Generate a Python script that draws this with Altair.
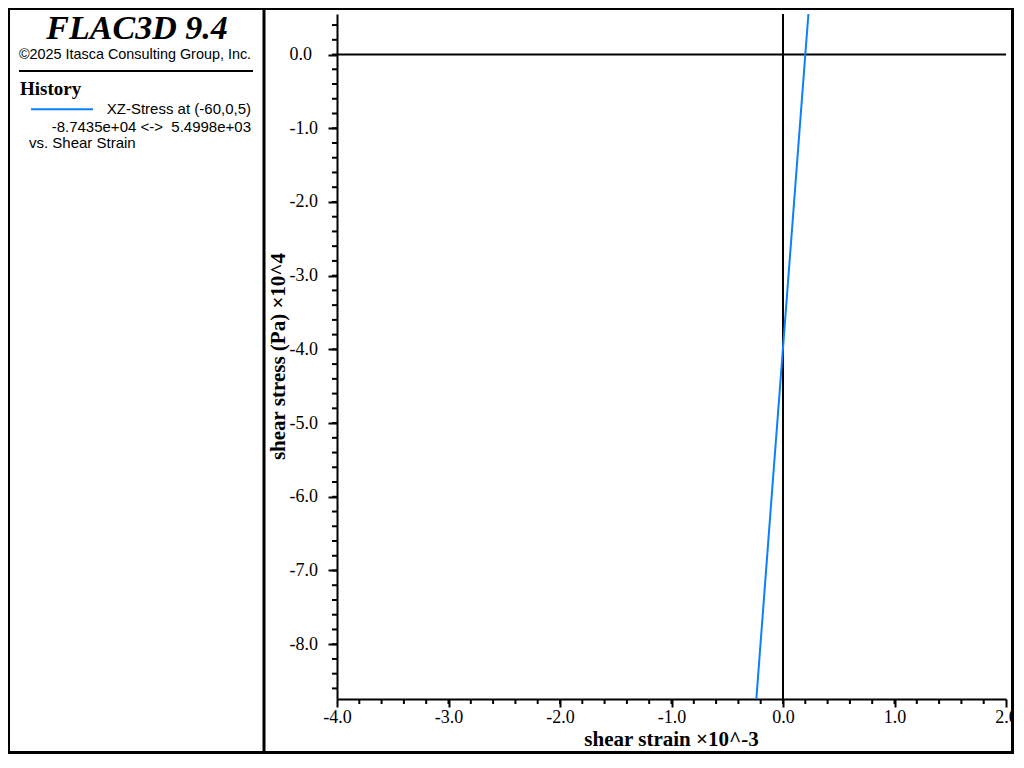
import altair as alt
import pandas as pd

# ---- data ----
shear_strain = [-0.239, -0.105, 0.0, 0.2, 0.228]          # x 10^-3
shear_stress = [-8.7435, -6.06, -3.98, 0.0, 0.54998]       # Pa x 10^4
x_major = [-4.0, -3.0, -2.0, -1.0, 0.0, 1.0, 2.0]
y_major = [-8.0, -7.0, -6.0, -5.0, -4.0, -3.0, -2.0, -1.0, 0.0]
x_minor = [round(-3.8 + 0.2 * i, 1) for i in range(29)]
y_minor = [round(-8.6 + 0.2 * i, 1) for i in range(46)]
x_domain = [-4.0, 2.0]
y_domain = [-8.7435, 0.54998]

title_text = "FLAC3D 9.4"
copyright_text = "\u00a92025 Itasca Consulting Group, Inc."
legend_head = "History"
legend_series = "XZ-Stress at (-60,0,5)"
legend_range = "-8.7435e+04 <->\u00a0 5.4998e+03"
legend_vs = "vs. Shear Strain"
x_title = "shear strain \u00d710^-3"
y_title = "shear stress (Pa) \u00d710^4"

BLUE = "#0a80ff"
SERIF = "Liberation Serif"
SANS = "Liberation Sans"

W, H = 669, 685
PAD = {"left": 329, "top": 6, "right": 8, "bottom": 55}

line_df = pd.DataFrame({"strain": shear_strain, "stress": shear_stress})
one = pd.DataFrame({"a": [0]})
zero_df = pd.DataFrame({"v": [0.0]})
xminor_df = pd.DataFrame({"v": x_minor})
yminor_df = pd.DataFrame({"v": y_minor})

xs = alt.Scale(domain=x_domain, nice=False, zero=False)
ys = alt.Scale(domain=y_domain, nice=False, zero=False)
label_expr = "(datum.value < 0 ? '-' : '') + format(abs(datum.value), '.1f')"

x_axis = alt.Axis(values=x_major, labelExpr=label_expr, title=None, grid=False,
                  tickSize=8, tickWidth=2, tickColor="black", domainWidth=2,
                  domainColor="black", labelPadding=1, labelFont=SERIF,
                  labelFontSize=18, labelColor="black", labelFlush=False,
                  labelOverlap=False)
y_axis = alt.Axis(values=y_major, labelExpr=label_expr, title=None, grid=False,
                  tickSize=9, tickWidth=2, tickColor="black", domainWidth=2,
                  domainColor="black", labelPadding=39, labelAlign="left",
                  labelBaseline="middle", labelFont=SERIF, labelFontSize=18,
                  labelColor="black", labelFlush=False, labelOverlap=False)


def hrule(x, x2, y, w, color="black"):
    return alt.Chart(one).mark_rule(strokeWidth=w, color=color).encode(
        x=alt.value(x), x2=alt.value(x2), y=alt.value(y))


def vrule(x, y, y2, w, color="black"):
    return alt.Chart(one).mark_rule(strokeWidth=w, color=color).encode(
        x=alt.value(x), y=alt.value(y), y2=alt.value(y2))


def txt(s, x, y, font, size, weight="normal", style="normal", align="left", angle=0):
    return alt.Chart(one).mark_text(
        text=s, font=font, fontSize=size, fontWeight=weight, fontStyle=style,
        align=align, baseline="alphabetic", angle=angle, color="black"
    ).encode(x=alt.value(x), y=alt.value(y))


# history line (first, carries the axes)
line = alt.Chart(line_df).mark_line(color=BLUE, strokeWidth=2).encode(
    x=alt.X("strain:Q", scale=xs, axis=x_axis),
    y=alt.Y("stress:Q", scale=ys, axis=y_axis),
    order=alt.Order("strain:Q"))

# zero lines
zero_v = alt.Chart(zero_df).mark_rule(color="black", strokeWidth=2).encode(
    x=alt.X("v:Q", scale=xs, axis=x_axis))
zero_h = alt.Chart(zero_df).mark_rule(color="black", strokeWidth=2).encode(
    y=alt.Y("v:Q", scale=ys, axis=y_axis))

# minor ticks
xminor = alt.Chart(xminor_df).mark_rule(color="black", strokeWidth=2).encode(
    x=alt.X("v:Q", scale=xs, axis=x_axis), y=alt.value(H), y2=alt.value(H + 5))
yminor = alt.Chart(yminor_df).mark_rule(color="black", strokeWidth=2).encode(
    y=alt.Y("v:Q", scale=ys, axis=y_axis), x=alt.value(-5), x2=alt.value(0))

# left panel and frame (relative to plot origin)
ox, oy = PAD["left"], PAD["top"]
total_w = PAD["left"] + W + PAD["right"]
total_h = PAD["top"] + H + PAD["bottom"]

layers = [
    zero_v, zero_h, xminor, yminor, line,
    # frame
    hrule(-ox, total_w - ox, 1 - oy, 2),
    vrule(1 - ox, -oy, total_h - oy, 2),
    vrule(total_w - 1.5 - ox, -oy, total_h - oy, 3),
    hrule(-ox, total_w - ox, total_h - 1.5 - oy, 3),
    vrule(256 - ox, -oy, total_h - oy, 3),
    # left panel
    txt(title_text, 129 - ox, 30.5 - oy, SERIF, 34, weight="bold", style="italic", align="center"),
    txt(copyright_text, 127 - ox, 51 - oy, SANS, 14.4, align="center"),
    hrule(11 - ox, 245 - ox, 63 - oy, 2),
    txt(legend_head, 12 - ox, 87.3 - oy, SERIF, 19, weight="bold"),
    hrule(23 - ox, 85 - ox, 101.3 - oy, 2, color=BLUE),
    txt(legend_series, 243 - ox, 106.3 - oy, SANS, 15, align="right"),
    txt(legend_range, 243 - ox, 123.7 - oy, SANS, 15, align="right"),
    txt(legend_vs, 21 - ox, 139.7 - oy, SANS, 15),
    # axis titles
    txt(x_title, W / 2, H + 47, SERIF, 21, weight="bold", align="center"),
    txt(y_title, -52, H / 2, SERIF, 21, weight="bold", align="center", angle=270),
]

chart = alt.layer(*layers).properties(
    width=W, height=H, padding=PAD,
    autosize=alt.AutoSizeParams(type="none"),
    background="white",
).configure_view(stroke=None)

chart.save("out.html", embed_options={"renderer": "svg", "actions": False})
